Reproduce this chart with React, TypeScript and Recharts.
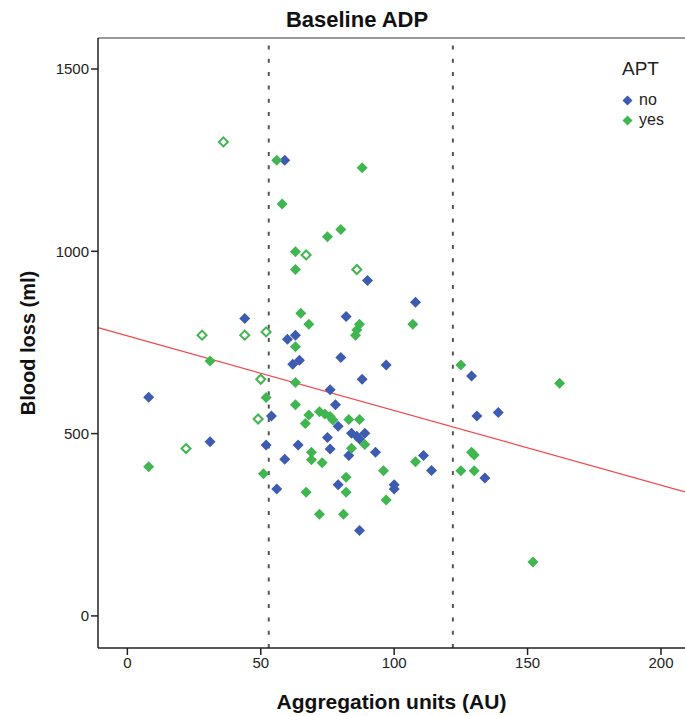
import React from "react";
import {
  ScatterChart,
  Scatter,
  XAxis,
  YAxis,
  ReferenceLine,
} from "recharts";

// APT = no (blue, filled)
const noPoints = [
  [8, 600], [31, 478], [44, 816], [52, 469], [54, 548], [56, 348], [59, 430],
  [59, 1250], [60, 759], [62, 690], [63, 770], [64.5, 701], [64, 469], [76, 620],
  [76, 458], [75, 489], [78, 579], [79, 520], [79, 360], [80, 709], [82, 821],
  [83, 440], [84, 501], [86, 493], [87, 485], [87, 234], [88, 649], [89, 501],
  [90, 920], [93, 449], [97, 688], [100, 360], [100, 348], [108, 860], [111, 440],
  [114, 399], [129, 658], [131, 548], [139, 558], [134, 378],
];

// APT = yes (green, filled)
const yesPoints = [
  [8, 409], [31, 699], [51, 390], [52, 599], [56, 1250], [58, 1130], [63, 999],
  [63, 950], [63, 738], [63, 640], [63, 579], [65, 830], [68, 800], [68, 551],
  [66.7, 528], [69, 449], [69, 428], [72, 560], [74, 554], [76, 547], [77, 537],
  [73, 420], [75, 1040], [80, 1060], [83, 539], [87, 539], [84, 460], [89, 470],
  [82, 380], [67, 339], [82, 339], [72, 279], [81, 279], [85.5, 770], [86, 784],
  [87, 800], [88, 1229], [96, 398], [97, 318], [107, 800], [108, 423], [125, 688],
  [129, 449], [130, 441], [125, 398], [130, 398], [152, 148], [162, 638],
];

// APT = yes, hollow markers
const yesOpenPoints = [
  [36, 1300], [28, 770], [44, 770], [52, 779], [50, 649], [49, 540], [22, 459],
  [67, 990], [86, 950],
];

const xTicks = [0, 50, 100, 150, 200];
const yTicks = [0, 500, 1000, 1500];
const xDomain = [-11, 209];
const yDomain = [-88, 1585];
const cutoffs = [53, 122];
const fitIntercept = 768;
const fitSlope = -2.046;
const legendItems = ["no", "yes"];

const BLUE = "#3d5bb0";
const GREEN = "#3fb64f";
const FONT = "'Liberation Sans', Arial, sans-serif";

const toRows = (pts: number[][]) => pts.map(([x, y]) => ({ x, y }));

const Diamond = (color: string, hollow = false) => (props: any) => {
  const { cx, cy } = props;
  if (cx == null || cy == null) return <g />;
  const r = hollow ? 4.5 : 5.5;
  const pts = `${cx},${cy - r} ${cx + r},${cy} ${cx},${cy + r} ${cx - r},${cy}`;
  return hollow ? (
    <polygon points={pts} fill="#fff" stroke={color} strokeWidth={2} />
  ) : (
    <polygon points={pts} fill={color} />
  );
};

export default function App() {
  const fitLine = [
    { x: xDomain[0], y: fitIntercept + fitSlope * xDomain[0] },
    { x: xDomain[1], y: fitIntercept + fitSlope * xDomain[1] },
  ];
  const tickStyle = { fill: "#222", fontSize: 15, fontFamily: FONT };
  return (
    <div style={{ position: "absolute", left: 0, top: 0, width: 685, height: 716, background: "#fff" }}>
      <div
        style={{
          position: "absolute",
          top: 9,
          left: 157,
          width: 400,
          textAlign: "center",
          fontFamily: FONT,
          fontWeight: 700,
          fontSize: 22,
          lineHeight: "22px",
          color: "#111",
        }}
      >
        Baseline ADP
      </div>
      <ScatterChart width={685} height={716} margin={{ top: 38, right: 0, bottom: 0, left: 0 }}>
        <XAxis
          type="number"
          dataKey="x"
          domain={xDomain}
          ticks={xTicks}
          allowDataOverflow
          height={68}
          axisLine={{ stroke: "#222", strokeWidth: 1.5 }}
          tickLine={{ stroke: "#222", strokeWidth: 1.5 }}
          tickSize={7}
          tick={tickStyle}
          label={{
            value: "Aggregation units (AU)",
            position: "insideBottom",
            offset: 7,
            style: { fontFamily: FONT, fontWeight: 700, fontSize: 21, fill: "#111" },
          }}
        />
        <YAxis
          type="number"
          dataKey="y"
          domain={yDomain}
          ticks={yTicks}
          allowDataOverflow
          width={98}
          axisLine={{ stroke: "#222", strokeWidth: 1.5 }}
          tickLine={{ stroke: "#222", strokeWidth: 1.5 }}
          tickSize={7}
          tick={tickStyle}
          label={{
            value: "Blood loss (ml)",
            angle: -90,
            position: "insideLeft",
            offset: 28,
            style: { fontFamily: FONT, fontWeight: 700, fontSize: 20, fill: "#111", textAnchor: "middle" },
          }}
        />
        <ReferenceLine y={yDomain[1]} stroke="#999" strokeWidth={2} />
        {cutoffs.map((c) => (
          <ReferenceLine key={c} x={c} stroke="#555" strokeWidth={2} strokeDasharray="4 9.3" />
        ))}
        <ReferenceLine segment={fitLine} stroke="#f5484a" strokeWidth={1.2} />
        <Scatter name="no" data={toRows(noPoints)} shape={Diamond(BLUE)} isAnimationActive={false} />
        <Scatter name="yes" data={toRows(yesPoints)} shape={Diamond(GREEN)} isAnimationActive={false} />
        <Scatter
          name="yes-open"
          data={toRows(yesOpenPoints)}
          shape={Diamond(GREEN, true)}
          isAnimationActive={false}
        />
      </ScatterChart>
      <div style={{ position: "absolute", left: 622, top: 58, fontFamily: FONT, color: "#222" }}>
        <div style={{ fontSize: 19, lineHeight: "22px", marginBottom: 10 }}>APT</div>
        {legendItems.map((label, i) => (
          <div key={label} style={{ display: "flex", alignItems: "center", fontSize: 16, height: 20 }}>
            <svg width={11} height={11} style={{ marginRight: 6 }}>
              <polygon points="5.5,0.5 10.5,5.5 5.5,10.5 0.5,5.5" fill={i === 0 ? BLUE : GREEN} />
            </svg>
            {label}
          </div>
        ))}
      </div>
    </div>
  );
}
